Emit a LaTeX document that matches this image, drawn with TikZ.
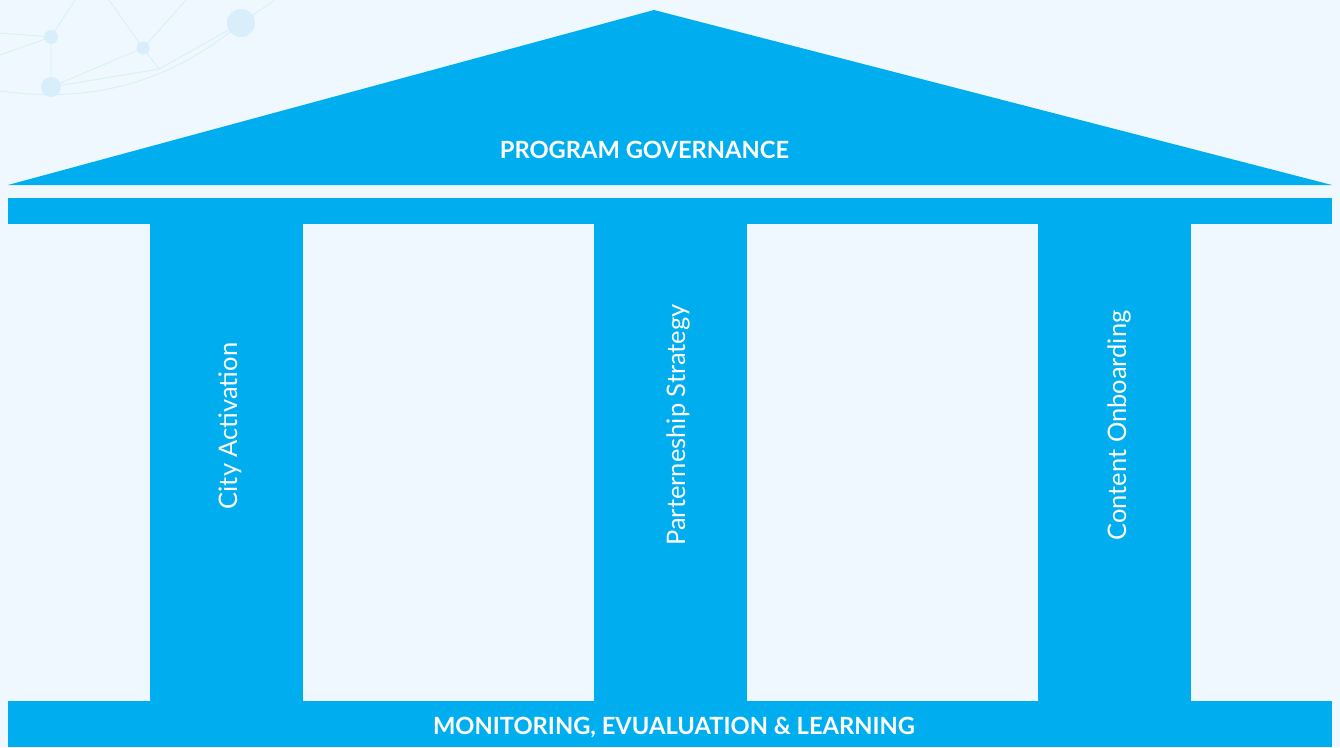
\documentclass[tikz,border=0pt]{standalone}
\usepackage{fontspec}
\setmainfont{Lato}
\definecolor{bg}{HTML}{EFF8FE}
\definecolor{blu}{HTML}{00AEEF}
\definecolor{deco}{HTML}{D8EEFA}
\begin{document}
\begin{tikzpicture}[x=1pt,y=-1pt,
  part/.style={fill=blu,draw=none},
  lbl/.style={text=white,font=\bfseries\fontsize{23.7}{26}\selectfont,inner sep=0pt},
  plbl/.style={text=white,font=\fontsize{25.5}{28}\selectfont,inner sep=0pt,rotate=90},
  dln/.style={draw=deco,line width=0.9pt},
  dot/.style={fill=deco,draw=none}]
\fill[bg] (0,0) rectangle (1340,747);
\useasboundingbox (0,0) rectangle (1340,747);
% decoration
\coordinate (A) at (51,37);
\coordinate (B) at (143,48);
\coordinate (C) at (51,87);
\coordinate (D) at (241,23);
\coordinate (E) at (159,69);
\draw[dln] (0,33) -- (A) -- (0,55);
\draw[dln] (75,0) -- (A) -- (C);
\draw[dln] (109,0) -- (B) -- (186,0);
\draw[dln] (B) -- (E) -- (D);
\draw[dln] (C) -- (B);
\draw[dln] (C) -- (E);
\draw[dln] (0,91) .. controls (60,99) and (150,100) .. (D) -- (275,0);
\fill[dot] (A) circle (7);
\fill[dot] (B) circle (6.5);
\fill[dot] (C) circle (10);
\fill[dot] (D) circle (14);
% temple
\fill[part] (8,185) -- (654,10) -- (1332,185) -- cycle;
\node[lbl] (roof) at (644.5,150) {PROGRAM GOVERNANCE};
\fill[part] (8,198) rectangle (1332,224);
\fill[part] (150,224) rectangle (303,701);
\fill[part] (594,224) rectangle (747,701);
\fill[part] (1038,224) rectangle (1191,701);
\fill[part] (8,701) rectangle (1332,747);
\node[plbl] (p1) at (230,426) {City Activation};
\node[plbl] (p2) at (678,425) {Parterneship Strategy};
\node[plbl] (p3) at (1119,425.5) {Content Onboarding};
\node[lbl] (base) at (674,728) {MONITORING, EVUALUATION \& LEARNING};
\end{tikzpicture}
\end{document}
